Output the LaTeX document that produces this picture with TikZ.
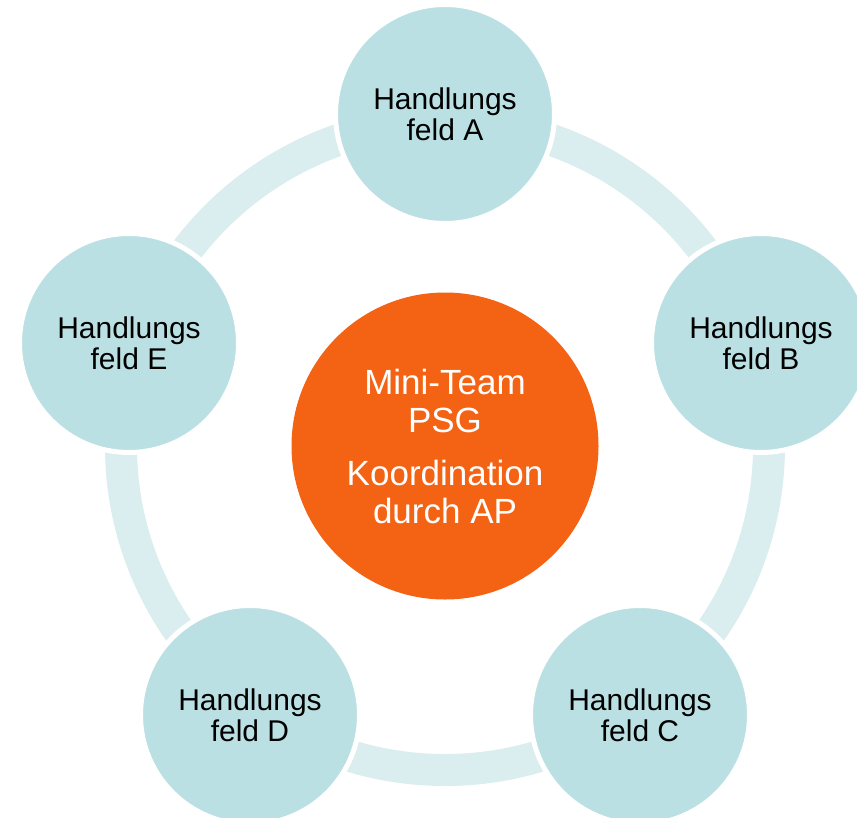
\documentclass[tikz,border=0pt]{standalone}
\usepackage{fontspec}
\setmainfont{Liberation Sans}
\definecolor{feldteal}{RGB}{187,224,227}
\definecolor{ringteal}{RGB}{218,237,239}
\definecolor{psgorange}{RGB}{244,98,20}
\tikzset{
  feld/.style={circle,fill=feldteal,draw=white,line width=5bp,minimum size=219bp,
    inner sep=0pt,align=center,font=\fontsize{30bp}{31bp}\selectfont},
  ring/.style={ringteal,line width=32bp}
}
\begin{document}
\begin{tikzpicture}[x=1bp,y=-1bp]
 \useasboundingbox (0,0) rectangle (857,818);
 \node[circle,fill=psgorange,minimum size=307bp,inner sep=0pt,align=center,text=white,
   font=\fontsize{35bp}{38bp}\selectfont] (psg) at (445,446) {Mini-Team\\PSG\\[15bp]Koordination\\durch AP};
 \draw[ring] (psg.center) circle (324bp);
 \node[feld] (feldA) at (445,114) {Handlungs\\feld A};
 \node[feld] (feldB) at (761,343) {Handlungs\\feld B};
 \node[feld] (feldC) at (640,715) {Handlungs\\feld C};
 \node[feld] (feldD) at (250,715) {Handlungs\\feld D};
 \node[feld] (feldE) at (129,343) {Handlungs\\feld E};
\end{tikzpicture}
\end{document}
